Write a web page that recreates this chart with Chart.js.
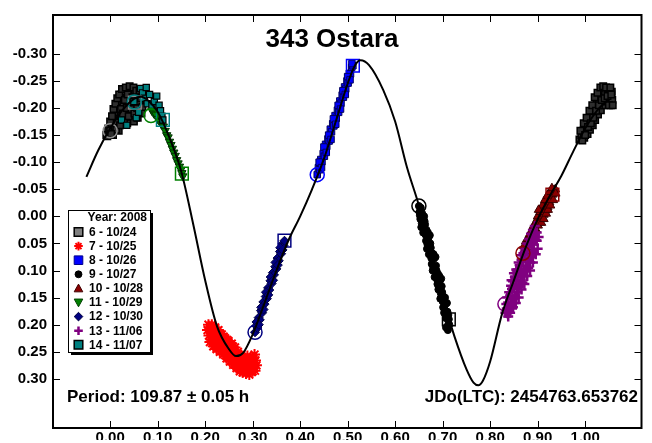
<!DOCTYPE html>
<html>
<head>
<meta charset="utf-8">
<script src="https://cdn.jsdelivr.net/npm/chart.js@4.4.0/dist/chart.umd.min.js"></script>
<style>
  html, body { margin: 0; padding: 0; background: #fff; }
  #wrap { width: 652px; height: 443px; }
</style>
</head>
<body>
<div id="wrap"><canvas id="lc" width="652" height="443"></canvas></div>
<script>
// Tick labels
const xTicks = [0, 0.1, 0.2, 0.3, 0.4, 0.5, 0.6, 0.7, 0.8, 0.9, 1.0];
const yTicks = [-0.30, -0.25, -0.20, -0.15, -0.10, -0.05, 0, 0.05, 0.10, 0.15, 0.20, 0.25, 0.30];

// Fourier fit curve [phase, mag]
const fitCurve = [
  [-0.05,-0.073],[-0.025,-0.122],[0.0,-0.162],[0.025,-0.195],[0.05,-0.217],[0.065,-0.221],
  [0.08,-0.214],[0.10,-0.193],[0.125,-0.145],[0.15,-0.082],[0.175,0.015],[0.20,0.118],
  [0.225,0.203],[0.25,0.245],[0.265,0.258],[0.28,0.252],[0.30,0.218],[0.325,0.16],
  [0.35,0.10],[0.375,0.045],[0.40,0.0],[0.425,-0.05],[0.45,-0.106],[0.475,-0.175],
  [0.50,-0.245],[0.515,-0.278],[0.527,-0.288],[0.545,-0.279],[0.575,-0.233],[0.60,-0.175],
  [0.625,-0.09],[0.65,-0.02],[0.675,0.065],[0.70,0.15],[0.725,0.222],[0.75,0.282],
  [0.765,0.307],[0.775,0.312],[0.785,0.303],[0.80,0.268],[0.825,0.18],[0.85,0.118],
  [0.875,0.057],[0.90,0.005],[0.925,-0.037],[0.95,-0.075],[0.975,-0.12],[1.0,-0.162],
  [1.025,-0.195],[1.05,-0.217]
];

// Session 6 - 10/24
const session6 = [
  [-0.008,-0.150],[-0.004,-0.162],[0.000,-0.158],[0.003,-0.172],[0.006,-0.150],[0.008,-0.183],
  [0.010,-0.165],[0.012,-0.192],[0.014,-0.175],[0.016,-0.200],[0.018,-0.158],[0.020,-0.212],
  [0.022,-0.185],[0.024,-0.225],[0.026,-0.170],[0.028,-0.205],[0.030,-0.230],[0.032,-0.190],
  [0.034,-0.218],[0.036,-0.172],[0.038,-0.235],[0.040,-0.200],[0.042,-0.222],[0.044,-0.185],
  [0.046,-0.232],[0.048,-0.210],[0.050,-0.175],[0.052,-0.228],[0.054,-0.198],[0.056,-0.215],
  [0.058,-0.182],[0.060,-0.225],[0.063,-0.205],[0.066,-0.190],
  [0.000,-0.175],[0.004,-0.185],[0.007,-0.198],[0.011,-0.208],[0.013,-0.160],[0.015,-0.218],
  [0.019,-0.225],[0.021,-0.168],[0.023,-0.198],[0.025,-0.235],[0.027,-0.190],[0.029,-0.178],
  [0.031,-0.215],[0.033,-0.238],[0.035,-0.200],[0.037,-0.225],[0.039,-0.185],[0.041,-0.240],
  [0.043,-0.210],[0.045,-0.198],[0.047,-0.220],[0.049,-0.238],[0.051,-0.190],[0.053,-0.212],
  [0.055,-0.232],[0.057,-0.200],[0.059,-0.212],[0.062,-0.232],[0.065,-0.218],[0.068,-0.202],
  [-0.006,-0.148],[0.002,-0.152]
];
const session6Wrap = [
  [0.988,-0.142],[0.992,-0.150],[0.996,-0.158],[0.998,-0.145],[1.002,-0.165],[1.005,-0.152],
  [1.008,-0.175],[1.010,-0.160],[1.013,-0.188],[1.016,-0.168],[1.018,-0.200],[1.021,-0.178],
  [1.024,-0.210],[1.027,-0.188],[1.030,-0.222],[1.033,-0.196],[1.036,-0.232],[1.039,-0.205],
  [1.042,-0.228],[1.045,-0.212],[1.048,-0.236],[1.051,-0.220],[1.054,-0.205],[1.056,-0.230],
  [1.057,-0.215],
  [0.990,-0.158],[0.994,-0.140],[0.997,-0.172],[1.000,-0.150],[1.003,-0.182],[1.006,-0.165],
  [1.009,-0.195],[1.012,-0.172],[1.015,-0.205],[1.017,-0.182],[1.020,-0.220],[1.023,-0.195],
  [1.026,-0.228],[1.029,-0.205],[1.032,-0.238],[1.035,-0.215],[1.038,-0.240],[1.041,-0.218],
  [1.044,-0.238],[1.047,-0.222],[1.050,-0.205],[1.053,-0.238],[1.055,-0.225],[1.058,-0.205]
];
// Session 7 - 10/25
const session7 = [
  [0.205,0.210],[0.208,0.220],[0.211,0.205],[0.213,0.228],[0.215,0.215],[0.218,0.208],
  [0.220,0.232],[0.222,0.220],[0.225,0.212],[0.227,0.238],[0.229,0.226],[0.232,0.218],
  [0.234,0.242],[0.236,0.230],[0.239,0.222],[0.241,0.246],[0.243,0.235],[0.246,0.228],
  [0.248,0.252],[0.250,0.240],[0.253,0.258],[0.255,0.248],[0.258,0.240],[0.260,0.262],
  [0.262,0.252],[0.265,0.270],[0.267,0.258],[0.270,0.276],[0.272,0.264],[0.275,0.282],
  [0.277,0.268],[0.280,0.275],[0.283,0.286],[0.285,0.262],[0.288,0.278],[0.291,0.268],
  [0.294,0.282],[0.297,0.272],[0.300,0.286],[0.303,0.276],[0.306,0.266],
  [0.207,0.200],[0.210,0.232],[0.214,0.200],[0.217,0.240],[0.221,0.205],[0.224,0.245],
  [0.228,0.210],[0.231,0.250],[0.235,0.218],[0.238,0.255],[0.242,0.225],[0.245,0.262],
  [0.249,0.230],[0.252,0.268],[0.256,0.235],[0.259,0.274],[0.263,0.242],[0.266,0.280],
  [0.269,0.250],[0.273,0.286],[0.276,0.256],[0.279,0.288],[0.282,0.262],[0.286,0.290],
  [0.289,0.258],[0.293,0.292],[0.296,0.260],[0.299,0.278],[0.302,0.262],[0.305,0.285],
  [0.308,0.275],[0.304,0.255]
];
// Session 8 - 10/26
const session8 = [
  [0.436,-0.077],[0.4385,-0.090],[0.441,-0.086],[0.4435,-0.105],[0.446,-0.101],[0.4485,-0.116],
  [0.451,-0.111],[0.4535,-0.133],[0.456,-0.129],[0.4585,-0.143],[0.461,-0.139],[0.4635,-0.161],
  [0.466,-0.156],[0.4685,-0.171],[0.471,-0.167],[0.4735,-0.186],[0.476,-0.181],[0.4785,-0.196],
  [0.481,-0.192],[0.4835,-0.213],[0.486,-0.209],[0.4885,-0.224],[0.491,-0.220],[0.4935,-0.239],
  [0.496,-0.235],[0.4985,-0.250],[0.501,-0.246],[0.5035,-0.264],[0.506,-0.263],[0.5085,-0.275],
  [0.511,-0.278],
  [0.440,-0.100],[0.445,-0.090],[0.450,-0.128],[0.455,-0.118],[0.460,-0.150],[0.465,-0.142],
  [0.470,-0.180],[0.475,-0.170],[0.480,-0.205],[0.485,-0.198],[0.490,-0.232],[0.495,-0.225],
  [0.500,-0.258],[0.505,-0.252],[0.509,-0.282]
];
// Session 9 - 10/27
const session9 = [
  [0.650,-0.019],[0.652,-0.002],[0.654,-0.016],[0.656,0.013],[0.658,0.000],[0.660,0.023],
  [0.662,0.009],[0.664,0.034],[0.666,0.025],[0.668,0.052],[0.670,0.040],[0.672,0.062],
  [0.674,0.050],[0.676,0.077],[0.678,0.068],[0.680,0.093],[0.682,0.078],[0.684,0.101],
  [0.686,0.091],[0.688,0.116],[0.690,0.106],[0.692,0.131],[0.694,0.120],[0.696,0.142],
  [0.698,0.129],[0.700,0.157],[0.702,0.148],[0.704,0.172],[0.706,0.162],[0.708,0.184],
  [0.710,0.176],[0.712,0.199],[0.713,0.190],[0.655,0.020],[0.661,0.000],[0.667,0.060],
  [0.673,0.035],[0.679,0.100],[0.685,0.075],[0.691,0.135],[0.697,0.115],[0.703,0.178],
  [0.709,0.160],[0.711,0.210],[0.707,0.205],
  [0.651,-0.008],[0.653,0.005],[0.657,-0.005],[0.659,0.030],[0.663,0.015],[0.665,0.045],
  [0.669,0.030],[0.671,0.070],[0.675,0.058],[0.677,0.088],[0.681,0.070],[0.683,0.112],
  [0.687,0.100],[0.689,0.125],[0.693,0.110],[0.695,0.152],[0.699,0.140],[0.701,0.168],
  [0.705,0.150],[0.707,0.188],[0.712,0.182],[0.714,0.200],[0.710,0.205]
];
// Session 10 - 10/28
const session10 = [
  [0.869,0.068],[0.871,0.055],[0.873,0.066],[0.875,0.046],[0.877,0.058],[0.879,0.042],
  [0.881,0.053],[0.883,0.033],[0.885,0.045],[0.887,0.027],[0.889,0.040],[0.891,0.018],
  [0.893,0.030],[0.895,0.013],[0.897,0.025],[0.899,0.005],[0.901,0.017],[0.903,-0.001],
  [0.905,0.011],[0.907,-0.010],[0.909,0.002],[0.911,-0.015],[0.913,-0.003],[0.915,-0.023],
  [0.917,-0.011],[0.919,-0.029],[0.921,-0.017],[0.923,-0.038],[0.925,-0.026],[0.927,-0.041],
  [0.929,-0.032],[0.931,-0.040],[0.934,-0.048],[0.937,-0.050],
  [0.900,0.000],[0.905,-0.008],[0.910,-0.020],[0.915,-0.030],[0.920,-0.038],[0.925,-0.045],
  [0.930,-0.052],[0.908,0.012],[0.913,0.005],[0.918,-0.005],[0.922,-0.012],[0.927,-0.020],
  [0.933,-0.030],[0.938,-0.042],[0.895,0.025],[0.890,0.030],[0.902,-0.012]
];
// Session 11 - 10/29
const session11 = [
  [0.088,-0.195],[0.092,-0.190],[0.096,-0.188],[0.100,-0.180],[0.104,-0.176],[0.108,-0.170],
  [0.112,-0.166],[0.116,-0.158],[0.119,-0.150],[0.122,-0.146],[0.125,-0.138],[0.128,-0.132],
  [0.131,-0.125],[0.134,-0.118],[0.137,-0.112],[0.140,-0.104],[0.143,-0.098],[0.146,-0.092],
  [0.149,-0.086],[0.151,-0.080],[0.153,-0.074]
];
// Session 12 - 10/30
const session12 = [
  [0.305,0.214],[0.3075,0.202],[0.310,0.206],[0.3125,0.187],[0.315,0.191],[0.3175,0.174],
  [0.320,0.178],[0.3225,0.158],[0.325,0.162],[0.3275,0.148],[0.330,0.152],[0.3325,0.132],
  [0.335,0.136],[0.3375,0.119],[0.340,0.124],[0.3425,0.104],[0.345,0.108],[0.3475,0.093],
  [0.350,0.097],[0.3525,0.077],[0.355,0.082],[0.3575,0.065],[0.360,0.069],[0.3625,0.051],
  [0.365,0.054],[0.367,0.045],
  [0.308,0.195],[0.313,0.200],[0.318,0.168],[0.323,0.172],[0.328,0.140],[0.333,0.145],
  [0.338,0.112],[0.343,0.118],[0.348,0.085],[0.353,0.090],[0.358,0.058],[0.363,0.062]
];
// Session 13 - 11/06
const session13 = [
  [0.832,0.178],[0.834,0.162],[0.836,0.179],[0.838,0.159],[0.840,0.172],[0.842,0.146],
  [0.844,0.159],[0.846,0.134],[0.848,0.153],[0.850,0.131],[0.852,0.146],[0.854,0.118],
  [0.856,0.133],[0.858,0.108],[0.860,0.126],[0.862,0.103],[0.864,0.120],[0.866,0.092],
  [0.868,0.106],[0.870,0.081],[0.872,0.100],[0.874,0.077],[0.876,0.092],[0.878,0.065],
  [0.880,0.080],[0.882,0.055],[0.884,0.072],[0.886,0.050],[0.888,0.064],[0.890,0.039],
  [0.892,0.052],[0.894,0.034],[0.896,0.044],[0.898,0.030],[0.842,0.178],[0.846,0.170],
  [0.850,0.160],[0.853,0.150],[0.857,0.140],[0.860,0.130],[0.864,0.112],[0.868,0.122],
  [0.872,0.110],[0.876,0.097],[0.880,0.095],[0.884,0.085],[0.888,0.075],[0.892,0.068],
  [0.845,0.118],[0.850,0.105],[0.855,0.098],[0.860,0.085],[0.865,0.072],
  [0.836,0.150],[0.840,0.140],[0.844,0.128],[0.848,0.120],[0.852,0.112],[0.856,0.100],
  [0.862,0.090],[0.866,0.080],[0.870,0.068],[0.874,0.060],[0.878,0.050],[0.882,0.042],
  [0.886,0.032],[0.890,0.025],[0.894,0.018],[0.898,0.045],[0.902,0.038],[0.900,0.060],
  [0.896,0.070],[0.890,0.085],[0.884,0.100],[0.878,0.110],[0.872,0.125],[0.866,0.135],
  [0.860,0.150],[0.854,0.160],[0.848,0.168],[0.838,0.185],[0.835,0.170]
];
// Session 14 - 11/07
const session14 = [
  [0.024,-0.178],[0.035,-0.168],[0.050,-0.212],[0.055,-0.182],[0.060,-0.192],[0.064,-0.236],
  [0.068,-0.228],[0.072,-0.218],[0.076,-0.238],[0.078,-0.208],[0.083,-0.225],[0.088,-0.205],
  [0.093,-0.212],[0.098,-0.222],[0.103,-0.205],[0.106,-0.195],[0.109,-0.185],[0.111,-0.178]
];

// First (circle) and last (square) point of each session
const firstPoints = [[0.000,-0.158],[0.051,-0.211],[0.086,-0.186],[0.305,0.214],[0.436,-0.077],[0.650,-0.019],[0.831,0.162],[0.869,0.068]];
const firstColors = ["#8c8c8c","#008080","#008000","#000080","#0000ff","#000000","#800080","#8b0000"];
const lastPoints = [[0.052,-0.210],[0.111,-0.178],[0.151,-0.079],[0.367,0.045],[0.511,-0.278],[0.713,0.190],[0.931,-0.040]];
const lastColors = ["#8c8c8c","#008080","#008000","#000080","#0000ff","#000000","#8b0000"];

const legendTitle = "Year: 2008";
const legendLabels = ["6 - 10/24","7 - 10/25","8 - 10/26","9 - 10/27","10 - 10/28","11 - 10/29","12 - 10/30","13 - 11/06","14 - 11/07"];
const legendMarkers = [
  { style: "rect", fill: "#808080", stroke: "#000", lw: 1.5 },
  { style: "star", fill: null, stroke: "#ff0000", lw: 2 },
  { style: "rect", fill: "#0000ff", stroke: "#00008b", lw: 1 },
  { style: "circle", fill: "#000", stroke: "#000", lw: 1 },
  { style: "triangle", fill: "#8b0000", stroke: "#400000", lw: 1 },
  { style: "triangleDown", fill: "#008000", stroke: "#004000", lw: 1 },
  { style: "diamond", fill: "#000080", stroke: "#000040", lw: 1 },
  { style: "cross", fill: null, stroke: "#800080", lw: 2.5 },
  { style: "rect", fill: "#008080", stroke: "#000", lw: 1.5 }
];

const toXY = (arr) => arr.map(([x, y]) => ({ x: x, y: y }));
const FONT = "'Liberation Sans', Arial, sans-serif";

function drawMarker(ctx, m, x, y, s) {
  ctx.save();
  ctx.beginPath();
  ctx.lineWidth = m.lw;
  ctx.strokeStyle = m.stroke;
  if (m.fill) ctx.fillStyle = m.fill;
  switch (m.style) {
    case "rect":
      ctx.rect(x - s, y - s, 2 * s, 2 * s);
      break;
    case "circle":
      ctx.arc(x, y, s * 0.8, 0, Math.PI * 2);
      break;
    case "triangle":
      ctx.moveTo(x, y - s); ctx.lineTo(x + s, y + s * 0.8); ctx.lineTo(x - s, y + s * 0.8); ctx.closePath();
      break;
    case "triangleDown":
      ctx.moveTo(x, y + s); ctx.lineTo(x + s, y - s * 0.8); ctx.lineTo(x - s, y - s * 0.8); ctx.closePath();
      break;
    case "diamond":
      ctx.moveTo(x, y - s); ctx.lineTo(x + s, y); ctx.lineTo(x, y + s); ctx.lineTo(x - s, y); ctx.closePath();
      break;
    case "cross":
      ctx.moveTo(x - s, y); ctx.lineTo(x + s, y); ctx.moveTo(x, y - s); ctx.lineTo(x, y + s);
      break;
    case "star":
      ctx.moveTo(x - s, y); ctx.lineTo(x + s, y); ctx.moveTo(x, y - s); ctx.lineTo(x, y + s);
      ctx.moveTo(x - s * 0.7, y - s * 0.7); ctx.lineTo(x + s * 0.7, y + s * 0.7);
      ctx.moveTo(x - s * 0.7, y + s * 0.7); ctx.lineTo(x + s * 0.7, y - s * 0.7);
      break;
  }
  if (m.fill) ctx.fill();
  ctx.stroke();
  ctx.restore();
}

// Frame, inward ticks, title, notes and the legend box
const decorations = {
  id: "decorations",
  afterDraw(chart) {
    const ctx = chart.ctx;
    const a = chart.chartArea;
    const xs = chart.scales.x;
    const ys = chart.scales.y;
    ctx.save();
    ctx.strokeStyle = "#000";
    ctx.lineWidth = 1;
    xTicks.forEach((v) => {
      const px = Math.round(xs.getPixelForValue(v)) + 0.5;
      ctx.beginPath();
      ctx.moveTo(px, a.bottom); ctx.lineTo(px, a.bottom - 7);
      ctx.moveTo(px, a.top); ctx.lineTo(px, a.top + 7);
      ctx.stroke();
    });
    yTicks.forEach((v) => {
      const py = Math.round(ys.getPixelForValue(v)) + 0.5;
      ctx.beginPath();
      ctx.moveTo(a.left, py); ctx.lineTo(a.left + 7, py);
      ctx.moveTo(a.right, py); ctx.lineTo(a.right - 7, py);
      ctx.stroke();
    });
    ctx.lineWidth = 2;
    ctx.strokeRect(a.left, a.top, a.right - a.left, a.bottom - a.top);

    ctx.fillStyle = "#000";
    ctx.textBaseline = "middle";
    ctx.font = "bold 26px " + FONT;
    ctx.textAlign = "center";
    ctx.fillText("343 Ostara", 332, 40);

    ctx.font = "bold 17px " + FONT;
    ctx.textAlign = "left";
    ctx.fillText("Period: 109.87 \u00b1 0.05 h", 67, 397);
    ctx.textAlign = "right";
    ctx.fillText("JDo(LTC): 2454763.653762", 638, 397);

    // legend box with shadow
    const bx = 68, by = 210, bw = 82, bh = 142;
    ctx.fillStyle = "#000";
    ctx.fillRect(bx + 3, by + 3, bw, bh);
    ctx.fillStyle = "#fff";
    ctx.fillRect(bx, by, bw, bh);
    ctx.lineWidth = 1;
    ctx.strokeStyle = "#000";
    ctx.strokeRect(bx + 0.5, by + 0.5, bw, bh);

    ctx.fillStyle = "#000";
    ctx.font = "bold 12px " + FONT;
    ctx.textAlign = "right";
    ctx.fillText(legendTitle, 147, 218);
    ctx.textAlign = "left";
    legendLabels.forEach((label, i) => {
      const y = 232 + i * 14.1;
      drawMarker(ctx, legendMarkers[i], 78.5, y, 4.3);
      ctx.fillStyle = "#000";
      ctx.fillText(label, 89, y + 0.5);
    });
    ctx.restore();
  }
};

const pointSet = (label, data, style, opts) => Object.assign({
  type: "scatter",
  label: label,
  data: toXY(data),
  pointStyle: style,
  showLine: false
}, opts);

new Chart(document.getElementById("lc"), {
  type: "scatter",
  data: {
    datasets: [
      {
        type: "line",
        label: "fit",
        data: toXY(fitCurve),
        borderColor: "#000",
        borderWidth: 2,
        pointRadius: 0,
        fill: false,
        cubicInterpolationMode: "monotone",
        order: 0
      },
      pointSet("first", firstPoints, "circle", {
        pointRadius: 7, pointBorderWidth: 1.5,
        pointBackgroundColor: "rgba(0,0,0,0)", pointBorderColor: firstColors, order: 1
      }),
      pointSet("last", lastPoints, "rect", {
        pointRadius: 9, pointBorderWidth: 1.5,
        pointBackgroundColor: "rgba(0,0,0,0)", pointBorderColor: lastColors, order: 1
      }),
      pointSet("14", session14, "rect", { pointRadius: 4.4, pointBackgroundColor: "#008080", pointBorderColor: "#000", pointBorderWidth: 1.2, order: 2 }),
      pointSet("13", session13, "cross", { pointRadius: 5, pointBorderColor: "#800080", pointBorderWidth: 2.5, order: 3 }),
      pointSet("12", session12, "rectRot", { pointRadius: 4.5, pointBackgroundColor: "#000080", pointBorderColor: "#000040", pointBorderWidth: 1, order: 4 }),
      pointSet("11", session11, "triangle", { pointRotation: 180, pointRadius: 4.8, pointBackgroundColor: "#008000", pointBorderColor: "#003000", pointBorderWidth: 1, order: 5 }),
      pointSet("10", session10, "triangle", { pointRadius: 5, pointBackgroundColor: "#8b0000", pointBorderColor: "#3a0000", pointBorderWidth: 1, order: 6 }),
      pointSet("9", session9, "circle", { pointRadius: 3.5, pointBackgroundColor: "#000", pointBorderColor: "#000", pointBorderWidth: 1, order: 7 }),
      pointSet("8", session8, "rect", { pointRadius: 4.6, pointBackgroundColor: "#0000ff", pointBorderColor: "#000060", pointBorderWidth: 1, order: 8 }),
      pointSet("7", session7, "star", { pointRadius: 5.5, pointBorderColor: "#ff0000", pointBorderWidth: 2, order: 9 }),
      pointSet("6", session6, "rect", { pointRadius: 4.6, pointBackgroundColor: "#2e2e2e", pointBorderColor: "#000", pointBorderWidth: 1.5, order: 10 }),
      pointSet("6w", session6Wrap, "rect", { pointRadius: 4.6, pointBackgroundColor: "#2e2e2e", pointBorderColor: "#000", pointBorderWidth: 1.5, order: 10 })
    ]
  },
  options: {
    responsive: false,
    animation: false,
    devicePixelRatio: 1,
    layout: { padding: { left: 0, right: 4, top: 11, bottom: 0 } },
    plugins: {
      legend: { display: false },
      tooltip: { enabled: false }
    },
    scales: {
      x: {
        type: "linear",
        min: -0.1203,
        max: 1.1186,
        afterBuildTicks: (scale) => { scale.ticks = xTicks.map((v) => ({ value: v })); },
        afterFit: (scale) => { scale.height = 12; },
        grid: { display: false, drawTicks: false },
        border: { display: false },
        ticks: {
          padding: 1,
          color: "#000",
          maxRotation: 0,
          autoSkip: false,
          font: { family: FONT, size: 15, weight: "bold" },
          callback: (v) => Number(v).toFixed(2)
        }
      },
      y: {
        type: "linear",
        reverse: true,
        min: -0.3717,
        max: 0.3907,
        afterBuildTicks: (scale) => { scale.ticks = yTicks.map((v) => ({ value: v })); },
        afterFit: (scale) => { scale.width = 53; },
        grid: { display: false, drawTicks: false },
        border: { display: false },
        ticks: {
          padding: 6,
          color: "#000",
          autoSkip: false,
          font: { family: FONT, size: 15, weight: "bold" },
          callback: (v) => (Math.abs(v) < 1e-9 ? 0 : Number(v)).toFixed(2)
        }
      }
    }
  },
  plugins: [decorations]
});
</script>
</body>
</html>
